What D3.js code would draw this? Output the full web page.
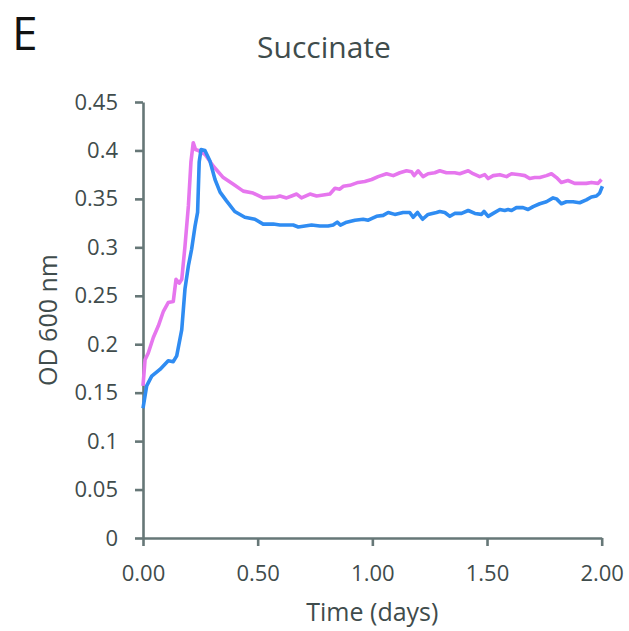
<html lang="en">
<head>
<meta charset="utf-8">
<title>Succinate</title>
<style>
  body { margin: 0; background: white; }
  svg { background: white; }
  .axis path, .axis line { stroke: #667777; stroke-width: 2.6; fill: none; }
  .axis text { font-family: "Open Sans", sans-serif; font-size: 22px; fill: #3f4c4c; }
  .lbl { font-family: "Open Sans", sans-serif; fill: #3f4c4c; }
</style>
</head>
<body>
<script src="https://cdnjs.cloudflare.com/ajax/libs/d3/7.8.5/d3.min.js"></script>
<script>
// data: time in days, OD 600
var blueT = [0, 0.016, 0.038, 0.074, 0.110, 0.132, 0.147, 0.169, 0.183, 0.198, 0.212, 0.227, 0.238, 0.245, 0.253, 0.270, 0.292, 0.314, 0.336, 0.364, 0.400, 0.444, 0.488, 0.524, 0.568,
  0.597, 0.626, 0.655, 0.677, 0.706, 0.735, 0.771, 0.807, 0.829, 0.847, 0.861, 0.888, 0.924, 0.960, 0.982, 1.018, 1.047, 1.069, 1.098, 1.134, 1.163, 1.178, 1.197, 1.219, 1.243, 1.280,
  1.294, 1.316, 1.338, 1.359, 1.389, 1.418, 1.447, 1.476, 1.487, 1.505, 1.527, 1.556, 1.577, 1.592, 1.607, 1.628, 1.657, 1.679, 1.701, 1.730, 1.759, 1.788, 1.803, 1.824, 1.846, 1.875, 1.904, 1.933, 1.955, 1.977, 1.991, 2.003];
var blueOD = [0.134, 0.157, 0.167, 0.174, 0.183, 0.182, 0.188, 0.215, 0.257, 0.281, 0.298, 0.322, 0.336, 0.388, 0.401, 0.400, 0.389, 0.370, 0.357, 0.348, 0.337, 0.331, 0.329, 0.324, 0.324,
  0.323, 0.323, 0.323, 0.321, 0.322, 0.323, 0.322, 0.322, 0.323, 0.326, 0.323, 0.326, 0.328, 0.329, 0.328, 0.332, 0.333, 0.336, 0.334, 0.336, 0.336, 0.331, 0.336, 0.329, 0.334, 0.336,
  0.337, 0.336, 0.332, 0.335, 0.335, 0.338, 0.335, 0.334, 0.337, 0.332, 0.335, 0.339, 0.338, 0.339, 0.338, 0.341, 0.341, 0.339, 0.342, 0.345, 0.347, 0.351, 0.350, 0.345, 0.347, 0.347, 0.346, 0.349, 0.352, 0.353, 0.356, 0.363];

var pinkT = [0, 0.009, 0.023, 0.045, 0.067, 0.089, 0.110, 0.132, 0.144, 0.158, 0.169, 0.183, 0.198, 0.209, 0.219, 0.229, 0.241, 0.270, 0.306, 0.350, 0.394, 0.437, 0.480, 0.524, 0.583,
  0.597, 0.626, 0.648, 0.670, 0.691, 0.728, 0.757, 0.786, 0.815, 0.837, 0.858, 0.873, 0.902, 0.938, 0.967, 0.997, 1.025, 1.062, 1.091, 1.120, 1.149, 1.171, 1.182, 1.200, 1.221, 1.243, 1.272,
  1.294, 1.323, 1.359, 1.381, 1.418, 1.439, 1.468, 1.490, 1.505, 1.527, 1.556, 1.585, 1.607, 1.643, 1.665, 1.686, 1.708, 1.730, 1.759, 1.781, 1.803, 1.824, 1.853, 1.882, 1.911, 1.933, 1.955, 1.984, 1.999];
var pinkOD = [0.157, 0.184, 0.191, 0.207, 0.219, 0.234, 0.243, 0.244, 0.267, 0.263, 0.267, 0.301, 0.343, 0.388, 0.408, 0.401, 0.400, 0.396, 0.384, 0.372, 0.365, 0.358, 0.356, 0.351, 0.352,
  0.353, 0.351, 0.353, 0.355, 0.351, 0.355, 0.353, 0.354, 0.355, 0.361, 0.360, 0.363, 0.364, 0.367, 0.368, 0.370, 0.373, 0.376, 0.374, 0.377, 0.379, 0.378, 0.374, 0.379, 0.373, 0.376, 0.377,
  0.379, 0.377, 0.377, 0.376, 0.379, 0.376, 0.373, 0.375, 0.371, 0.374, 0.375, 0.373, 0.376, 0.375, 0.374, 0.371, 0.372, 0.372, 0.374, 0.376, 0.372, 0.367, 0.369, 0.366, 0.366, 0.366, 0.367, 0.366, 0.370];

var xTicks = [0, 0.5, 1, 1.5, 2];
var yTicks = [0, 0.05, 0.1, 0.15, 0.2, 0.25, 0.3, 0.35, 0.4, 0.45];

var fullWidth = 629, fullHeight = 631;
var margin = {top: 102, right: 27.3, bottom: 93, left: 143};
var width = fullWidth - margin.left - margin.right;
var height = fullHeight - margin.top - margin.bottom;

var root = d3.select("body").append("svg")
  .attr("width", fullWidth)
  .attr("height", fullHeight);

var svg = root.append("g")
  .attr("transform", "translate(" + margin.left + "," + margin.top + ")");

var xScale = d3.scaleLinear().domain([0, 2]).range([0, width]);
var yScale = d3.scaleLinear().domain([0, 0.45]).range([height, 0]);

var xAxis = d3.axisBottom(xScale).tickValues(xTicks).tickFormat(d3.format(".2f"))
  .tickSize(8).tickSizeOuter(0).tickPadding(19);
var yAxis = d3.axisLeft(yScale).tickValues(yTicks).tickFormat(d3.format("~g"))
  .tickSize(8).tickSizeOuter(0).tickPadding(17);

svg.append("g").attr("class", "x axis")
  .attr("transform", "translate(0," + height + ")")
  .call(xAxis);
svg.append("g").attr("class", "y axis")
  .call(yAxis);

var line = d3.line()
  .x(function(d) { return xScale(d[0]); })
  .y(function(d) { return yScale(d[1]); });

var pink = d3.zip(pinkT, pinkOD);
var blue = d3.zip(blueT, blueOD);

svg.append("path").datum(pink)
  .attr("d", line)
  .attr("fill", "none")
  .attr("stroke", "#e676ee")
  .attr("stroke-width", 3.6)
  .attr("stroke-linejoin", "round");

svg.append("path").datum(blue)
  .attr("d", line)
  .attr("fill", "none")
  .attr("stroke", "#2f8cf2")
  .attr("stroke-width", 3.6)
  .attr("stroke-linejoin", "round");

// titles
root.append("text").attr("class", "lbl")
  .attr("x", 12).attr("y", 50)
  .attr("font-size", 46)
  .style("fill", "#111")
  .text("E");

root.append("text").attr("class", "lbl")
  .attr("x", 324).attr("y", 58)
  .attr("text-anchor", "middle")
  .attr("font-size", 30)
  .text("Succinate");

root.append("text").attr("class", "lbl")
  .attr("x", margin.left + width / 2).attr("y", 621)
  .attr("text-anchor", "middle")
  .attr("font-size", 25)
  .text("Time (days)");

root.append("text").attr("class", "lbl")
  .attr("transform", "translate(57,320) rotate(-90)")
  .attr("text-anchor", "middle")
  .attr("font-size", 25)
  .text("OD 600 nm");
</script>
</body>
</html>
